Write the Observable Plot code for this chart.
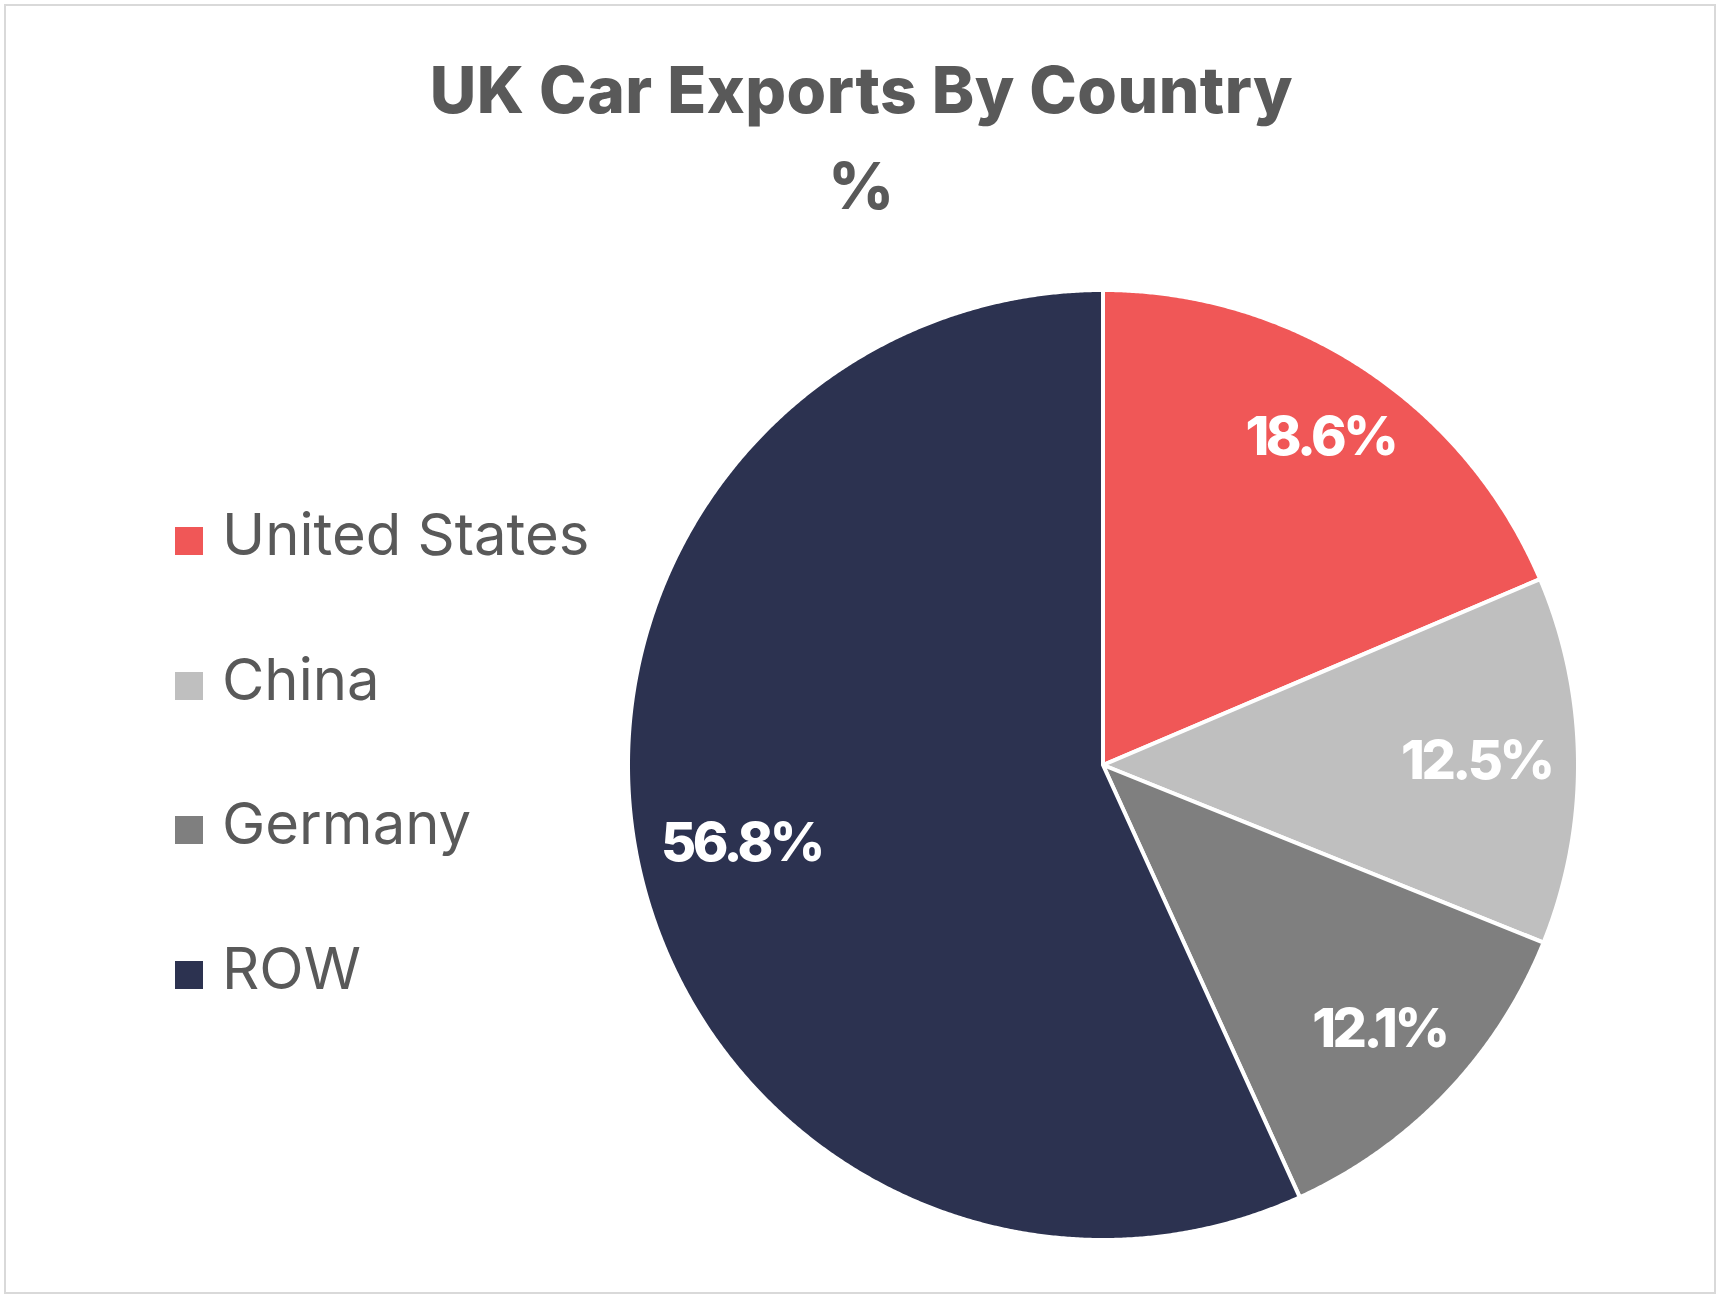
<!DOCTYPE html>
<html>
<head>
<meta charset="utf-8">
<script src="https://cdn.jsdelivr.net/npm/d3@7"></script>
<script src="https://cdn.jsdelivr.net/npm/@observablehq/plot@0.6"></script>
<style>
  html, body { margin: 0; padding: 0; background: #fff; }
  #page { position: relative; width: 1723px; height: 1301px; overflow: hidden; background: #fff; font-family: Inter, "Open Sans", sans-serif; }
  #frame { position: absolute; left: 4px; top: 4px; width: 1712px; height: 1290px; box-sizing: border-box; border: 2px solid #d9d9d9; }
  .title { position: absolute; left: 0; width: 1723px; text-align: center; color: #595959; font-weight: 800; font-size: 64px; line-height: 1; letter-spacing: 0.5px; white-space: nowrap; }
  #legend .item { position: absolute; left: 175px; height: 70px; }
  #legend .sw { position: absolute; left: 0; width: 28px; height: 28px; }
  #legend .lab { position: absolute; left: 47px; color: #595959; font-size: 58px; line-height: 1; white-space: nowrap; }
  #chart { position: absolute; left: 600px; top: 270px; }
</style>
</head>
<body>
<div id="page">
  <div id="frame"></div>
  <div class="title" style="top:58px">UK Car Exports By Country</div>
  <div class="title" style="top:154px">%</div>
  <div id="legend"></div>
  <div id="chart"></div>
</div>
<script>
// ---- data ----
const countries = ["United States", "China", "Germany", "ROW"];
const shares = [18.6, 12.5, 12.1, 56.8];
const colors = ["#F05757", "#BFBFBF", "#7F7F7F", "#2C3250"];
const labels = ["18.6%", "12.5%", "12.1%", "56.8%"];

// ---- legend (HTML) ----
const legend = document.getElementById("legend");
const legendTop = 555, legendStep = 144.7, baseOff = 50;
countries.forEach((c, i) => {
  const item = document.createElement("div");
  item.className = "item";
  item.style.top = (legendTop + i * legendStep - baseOff) + "px";
  const sw = document.createElement("div");
  sw.className = "sw";
  sw.style.background = colors[i];
  sw.style.top = (baseOff - 28) + "px";
  const lab = document.createElement("div");
  lab.className = "lab";
  lab.style.top = "0px";
  lab.textContent = c;
  item.appendChild(sw);
  item.appendChild(lab);
  legend.appendChild(item);
});

// ---- pie geometry from data (clockwise from 12 o'clock) ----
const total = d3.sum(shares);
const slices = [];
let acc = 0;
shares.forEach((v, i) => {
  const a0 = acc / total * 2 * Math.PI;
  acc += v;
  const a1 = acc / total * 2 * Math.PI;
  slices.push({country: countries[i], label: labels[i], a0, a1});
});

const pts = [];
for (const s of slices) {
  const n = Math.max(2, Math.ceil((s.a1 - s.a0) / (Math.PI / 720)));
  for (let k = 0; k <= n; k++) {
    const a = s.a0 + (s.a1 - s.a0) * k / n;
    pts.push({country: s.country, x1: Math.sin(a), y1: Math.cos(a), x2: 0, y2: 0});
  }
}

// "inside end" label placement: label box kept a fixed inset inside the rim
const Rpx = 475, inset = 18, halfW = 84, halfH = 21;
const labelPts = slices.map(s => {
  const m = (s.a0 + s.a1) / 2;
  const support = halfW * Math.abs(Math.sin(m)) + halfH * Math.abs(Math.cos(m));
  const r = (Rpx - inset - support) / Rpx;
  return {text: s.label, x: r * Math.sin(m), y: r * Math.cos(m)};
});

const chart = Plot.plot({
  width: 1010,
  height: 990,
  marginLeft: 28,
  marginRight: 32,
  marginTop: 20,
  marginBottom: 20,
  style: {background: "transparent", fontFamily: "Inter, 'Open Sans', sans-serif", letterSpacing: "-3.5px", overflow: "visible"},
  x: {domain: [-1, 1], axis: null},
  y: {domain: [-1, 1], axis: null},
  color: {domain: countries, range: colors},
  marks: [
    Plot.area(pts, {x1: "x1", y1: "y1", x2: "x2", y2: "y2", z: "country", fill: "country", stroke: "white", strokeWidth: 4, strokeLinejoin: "round"}),
    Plot.text(labelPts, {x: "x", y: "y", text: "text", fill: "white", fontSize: 54, fontWeight: 800})
  ]
});
document.getElementById("chart").appendChild(chart);
</script>
</body>
</html>
